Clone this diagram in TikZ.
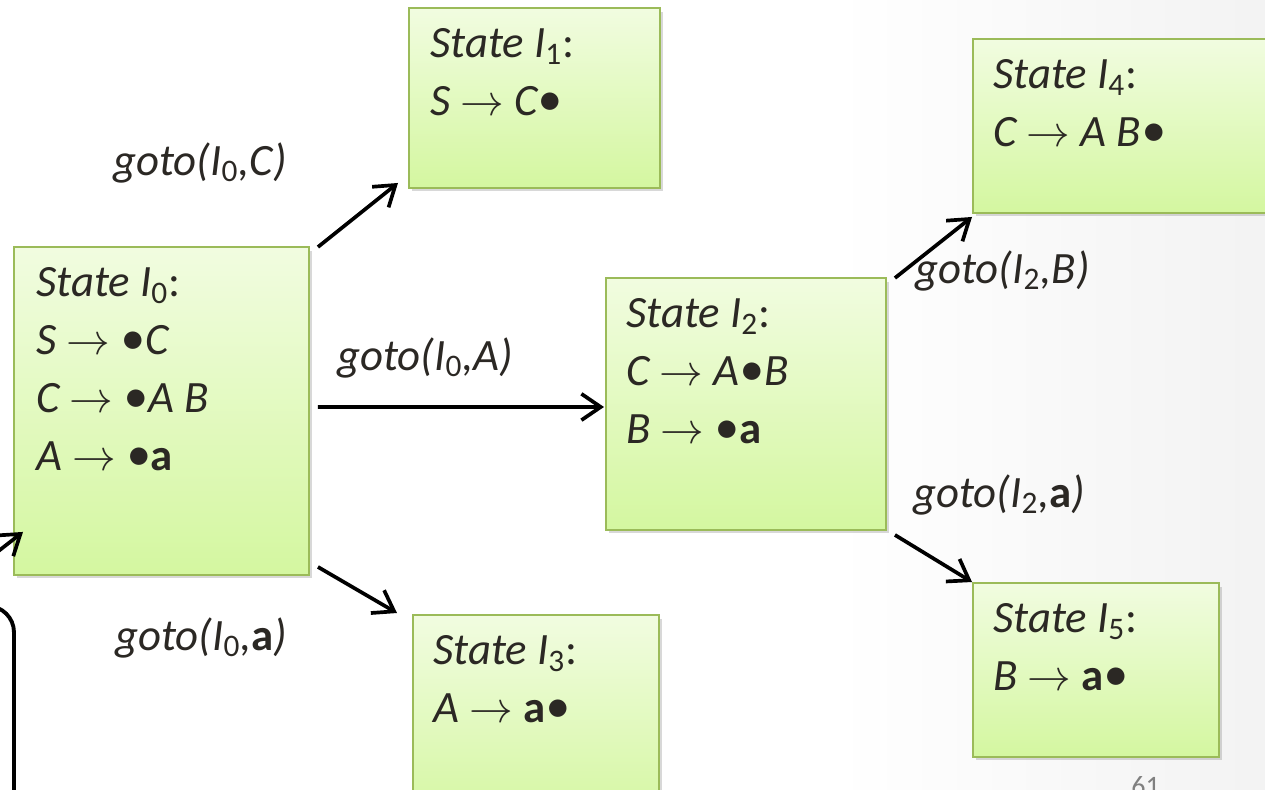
\documentclass[tikz,border=0pt]{standalone}
\usepackage{fontspec}
\setmainfont{Carlito}
\usepackage{tikz}
\usetikzlibrary{calc,arrows.meta,shadows}

\definecolor{boxtop}{HTML}{F1FCE0}
\definecolor{boxbot}{HTML}{D4F7A0}
\definecolor{boxline}{HTML}{9BBB59}
\definecolor{inkdark}{HTML}{2B2824}

\pgfdeclarehorizontalshading{slidebg}{100bp}{color(0bp)=(white); color(58bp)=(white); color(100bp)=(black!12)}

\newcommand{\iset}[1]{\textit{I}\textsubscript{\textup{#1}}}
\newcommand{\tok}[1]{\textup{\textbf{#1}}}
\newcommand{\pdot}{\scalebox{1.1}{\textbullet}}

\tikzset{
  statebox/.style={draw=boxline, line width=1pt, top color=boxtop, bottom color=boxbot,
    anchor=north west, inner sep=0pt, outer sep=0pt,
    drop shadow={shadow xshift=1.6pt, shadow yshift=-2pt, opacity=0.3}},
  statetext/.style={anchor=north west, inner sep=0pt, align=left, text=inkdark,
    font=\fontsize{25.5}{33}\selectfont\itshape},
  gotolabel/.style={anchor=base west, inner sep=0pt, text=inkdark,
    font=\fontsize{25.5}{30}\selectfont\itshape},
  move/.style={-{Straight Barb[length=11pt,width=15pt]}, line width=2.1pt}
}

\begin{document}
\begin{tikzpicture}[x=0.02cm, y=-0.02cm]
    % Slide background
    \useasboundingbox (0,0) rectangle (1265,789);
    \fill[shading=slidebg] (0,0) rectangle (1265,789);
    \clip (0,0) rectangle (1265,789);

    % Item set boxes
    \node[statebox, minimum width=5.9cm, minimum height=6.56cm] (i0) at (14,247) {};
    \node[statebox, minimum width=5.02cm, minimum height=3.6cm] (i1) at (409,8) {};
    \node[statebox, minimum width=5.6cm, minimum height=5.04cm] (i2) at (606,278) {};
    \node[statebox, minimum width=4.92cm, minimum height=4.2cm] (i3) at (413,615) {};
    \node[statebox, minimum width=6.1cm, minimum height=3.48cm] (i4) at (973,39) {};
    \node[statebox, minimum width=4.92cm, minimum height=3.48cm] (i5) at (973,583) {};

    % Box contents
    \node[statetext] (t0) at ($(i0.north west)+(22,9)$)
      {\strut State \iset{0}\textup{:}\\
       S $\rightarrow$ \pdot C\\
       C $\rightarrow$ \pdot A B\\
       A $\rightarrow$ \pdot\tok{a}};
    \node[statetext] (t1) at ($(i1.north west)+(21,9)$)
      {\strut State \iset{1}\textup{:}\\
       S $\rightarrow$ C\pdot};
    \node[statetext] (t2) at ($(i2.north west)+(20,9)$)
      {\strut State \iset{2}\textup{:}\\
       C $\rightarrow$ A\pdot B\\
       B $\rightarrow$ \pdot\tok{a}};
    \node[statetext] (t3) at ($(i3.north west)+(20,9)$)
      {\strut State \iset{3}\textup{:}\\
       A $\rightarrow$ \tok{a}\pdot};
    \node[statetext] (t4) at ($(i4.north west)+(20,9)$)
      {\strut State \iset{4}\textup{:}\\
       C $\rightarrow$ A B\pdot};
    \node[statetext] (t5) at ($(i5.north west)+(20,9)$)
      {\strut State \iset{5}\textup{:}\\
       B $\rightarrow$ \tok{a}\pdot};

    % Transitions
    \draw[move] ($(i0.north east)+(9,0)$) -- ($(i1.south west)+(-11,-5)$);
    \draw[move] ($(i0.east)+(9,-4)$) -- ($(i2.west)+(-2,3)$);
    \draw[move] ($(i0.south east)+(9,-8)$) -- ($(i3.north west)+(-16,-2)$);
    \draw[move] ($(i2.north east)+(9,0)$) -- ($(i4.south west)+(-1,4)$);
    \draw[move] ($(i2.south east)+(9,5)$) -- ($(i5.north west)+(-1,-1)$);

    % Incoming arrow and frame corner
    \coordinate (entry) at (-40,581);
    \draw[move] (entry) -- ($(i0.south west)+(9,-43)$);
    \draw[line width=2.2pt, rounded corners=15pt] (-40,606) -- (14,606) -- (14,830);

    % Transition labels
    \node[gotolabel] (g0c) at (113,175) {goto(\iset{0},C)};
    \node[gotolabel] (g0a) at (337,370) {goto(\iset{0},A)};
    \node[gotolabel] (g0t) at (115,650) {goto(\iset{0},\tok{a})};
    \node[gotolabel] (g2b) at (915,283) {goto(\iset{2},B)};
    \node[gotolabel] (g2t) at (913,507) {goto(\iset{2},\tok{a})};

    % Slide number
    \node[anchor=north west, inner sep=0pt, text=gray, font=\fontsize{16}{18}\selectfont] (pagenum) at (1131,776) {61};
\end{tikzpicture}
\end{document}
